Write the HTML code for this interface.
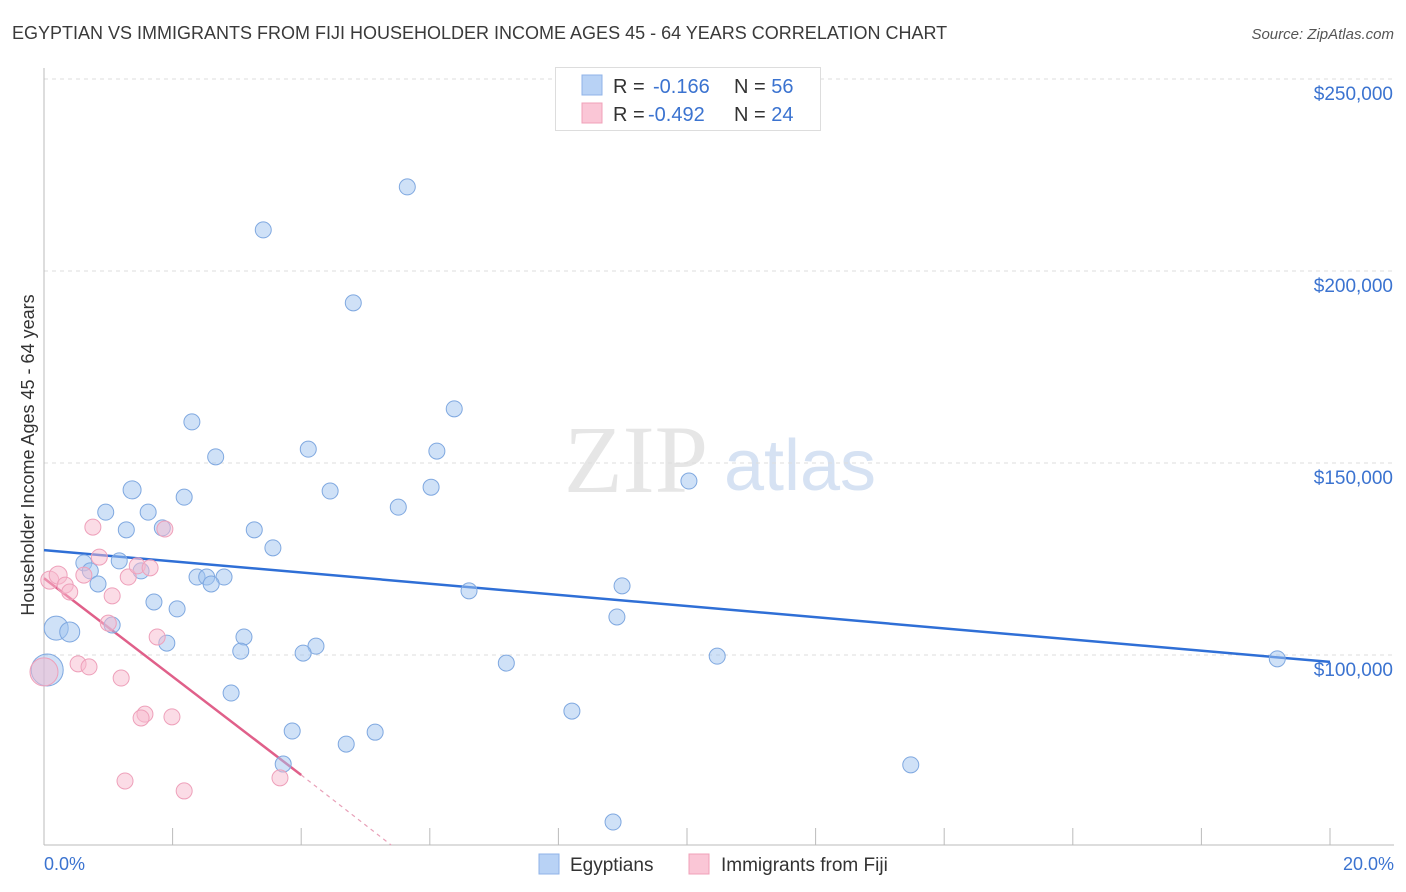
<!DOCTYPE html>
<html><head><meta charset="utf-8"><style>
body{margin:0;background:#fff;font-family:"Liberation Sans",sans-serif;}
#wrap{position:relative;width:1406px;height:892px;overflow:hidden}
</style></head><body>
<div id="wrap">
<svg id="svg" width="1406" height="892" xmlns="http://www.w3.org/2000/svg">
<text x="12" y="39" font-size="18" fill="#3a3a3a">EGYPTIAN VS IMMIGRANTS FROM FIJI HOUSEHOLDER INCOME AGES 45 - 64 YEARS CORRELATION CHART</text>
<text x="1394" y="39" font-size="15" fill="#555" font-style="italic" text-anchor="end">Source: ZipAtlas.com</text>
<text x="636" y="492" font-size="96" fill="#e6e6e6" font-family="Liberation Serif,serif" text-anchor="middle">ZIP</text>
<text x="800" y="490" font-size="72" fill="#d6e2f3" text-anchor="middle">atlas</text>
<g id="grid"></g><g id="axes"></g><g id="trend"></g><g id="pts"></g>
<text transform="translate(34,455) rotate(-90)" font-size="18" fill="#333" text-anchor="middle">Householder Income Ages 45 - 64 years</text>
<text x="44" y="870" font-size="18" fill="#3b73d0">0.0%</text>
<text x="1394" y="870" font-size="18" fill="#3b73d0" text-anchor="end">20.0%</text>
<g>
<rect x="555.5" y="67.5" width="265" height="63" fill="#fff" stroke="#ddd"/>
<rect x="582" y="75" width="20" height="20" fill="#b8d2f5" stroke="#8fb3e8"/>
<rect x="582" y="103" width="20" height="20" fill="#fac6d6" stroke="#f0a0b8"/>
<text x="613" y="93" font-size="20" fill="#333">R = <tspan fill="#3b73d0" x="653">-0.166</tspan><tspan x="734" fill="#333">N = </tspan><tspan fill="#3b73d0">56</tspan></text>
<text x="613" y="121" font-size="20" fill="#333">R = <tspan fill="#3b73d0" x="648">-0.492</tspan><tspan x="734" fill="#333">N = </tspan><tspan fill="#3b73d0">24</tspan></text>
</g>
<g><rect x="539" y="854" width="20" height="20" fill="#b8d2f5" stroke="#8fb3e8"/><text x="570" y="871" font-size="19" fill="#333">Egyptians</text></g>
<g><rect x="689" y="854" width="20" height="20" fill="#fac6d6" stroke="#f0a0b8"/><text x="721" y="871" font-size="19" fill="#333">Immigrants from Fiji</text></g>
</svg></div>
<script>
const yTicks=[100,150,200,250];
const yTickLabels=["$100,000","$150,000","$200,000","$250,000"];
const xTicks=[0,2,4,6,8,10,12,14,16,18,20];
const blueX=[5.65,3.41,4.81,6.38,2.30,4.11,6.11,2.67,10.03,6.02,1.37,4.45,2.18,5.51,0.96,1.62,1.28,3.27,1.84,3.56,1.17,0.62,0.72,1.51,2.38,2.53,2.80,2.60,0.84,8.99,6.61,1.71,2.07,8.91,1.06,0.19,0.40,3.11,1.91,4.23,3.06,4.03,10.47,7.19,19.18,0.05,2.91,8.21,3.86,5.15,4.70,3.72,13.48,8.85];
const blueY=[221.9,210.7,191.7,164.1,160.7,153.6,153.1,151.6,145.3,143.7,143.0,142.7,141.1,138.5,137.2,137.2,132.6,132.6,133.1,127.9,124.5,124.0,121.9,121.9,120.3,120.3,120.3,118.5,118.5,118.0,116.7,113.8,112.0,109.9,107.8,107.0,106.0,104.7,103.1,102.3,101.0,100.5,99.7,97.9,99.0,96.1,90.1,85.4,80.2,79.9,76.8,71.6,71.4,56.5];
const blueR=[8,8,8,8,8,8,8,8,8,8,9,8,8,8,8,8,8,8,8,8,8,8,8,8,8,8,8,8,8,8,8,8,8,8,8,12,10,8,8,8,8,8,8,8,8,16,8,8,8,8,8,8,8,8];
const pinkX=[0.09,0.22,0.33,0.40,0.76,0.86,0.62,1.06,1.31,1.45,1.65,1.88,1.00,1.76,0.53,0.70,1.20,0.0,1.57,1.51,1.99,1.26,2.18,3.67];
const pinkY=[119.5,120.8,118.2,116.4,133.3,125.5,120.8,115.4,120.3,123.2,122.7,132.8,108.3,104.7,97.7,96.9,94.0,95.6,84.6,83.6,83.9,67.2,64.6,68.0];
const pinkR=[9,9,8,8,8,8,8,8,8,8,8,8,8,8,8,8,8,14,8,8,8,8,8,8];
const blueTrend=[[0,127.3],[20,98.2]];
const pinkTrend=[[0,120],[4,68.75],[5.4,50.5]];
const X=v=>44+v*64.3, Y=v=>655-(v-100)*3.84;
const NS="http://www.w3.org/2000/svg";
function mk(p,t,a){const e=document.createElementNS(NS,t);for(const k in a)e.setAttribute(k,a[k]);document.getElementById(p).appendChild(e);return e;}
yTicks.forEach((t,i)=>{
 const g=mk('grid','line',{x1:44,x2:1394,y1:Y(t)-manual(t),y2:Y(t)-manual(t),stroke:'#ddd','stroke-dasharray':'4,4'});
 
 
 const l=mk('grid','text',{x:1393,y:Y(t)+21,'font-size':19,fill:'#3b73d0','text-anchor':'end'});
 l.textContent=yTickLabels[i];
 
 
});
function manual(t){return 0;}
const ax=mk('axes','line',{x1:44,x2:44,y1:68,y2:845,stroke:'#bbb'});


const bx=mk('axes','line',{x1:44,x2:1394,y1:845,y2:845,stroke:'#bbb'});


xTicks.forEach(t=>{const e=mk('axes','line',{x1:X(t),x2:X(t),y1:828,y2:845,stroke:'#bbb'});
 
 });
const bt=mk('trend','line',{x1:X(blueTrend[0][0]),y1:Y(blueTrend[0][1]),x2:X(blueTrend[1][0]),y2:Y(blueTrend[1][1]),stroke:'#2f6fd6','stroke-width':2.5});


const pt=mk('trend','line',{x1:X(pinkTrend[0][0]),y1:Y(pinkTrend[0][1]),x2:X(pinkTrend[1][0]),y2:Y(pinkTrend[1][1]),stroke:'#e0608a','stroke-width':2.5});


const pd=mk('trend','line',{x1:X(pinkTrend[1][0]),y1:Y(pinkTrend[1][1]),x2:X(pinkTrend[2][0]),y2:Y(pinkTrend[2][1]),stroke:'#e8a0b8','stroke-width':1.2,'stroke-dasharray':'4,4'});


blueX.forEach((x,i)=>{const c=mk('pts','circle',{cx:X(x),cy:Y(blueY[i]),r:blueR[i],fill:'rgba(160,195,240,0.5)',stroke:'#7fa8e0','stroke-width':1});
 
 });
pinkX.forEach((x,i)=>{const c=mk('pts','circle',{cx:X(x),cy:Y(pinkY[i]),r:pinkR[i],fill:'rgba(248,185,205,0.5)',stroke:'#eea0ba','stroke-width':1});
 
 });
</script>
</body></html>
